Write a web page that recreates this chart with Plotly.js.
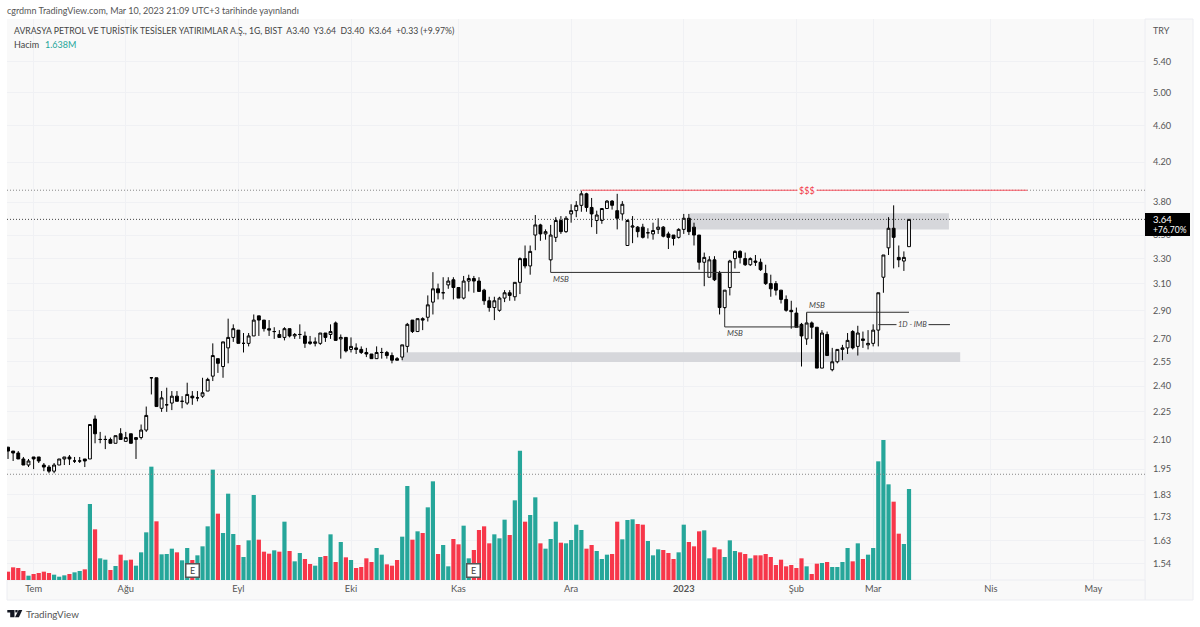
<!DOCTYPE html>
<html><head><meta charset="utf-8">
<script src="https://cdn.plot.ly/plotly-3.0.1.min.js"></script>
<style>html,body{margin:0;padding:0;background:#fff;overflow:hidden}</style>
</head><body><div id="chart" style="width:1200px;height:627px"></div>
<script>
const opens=[2.06,2.04,2.03,2.00,1.97,2.01,2.01,1.97,1.96,1.94,1.97,2.00,2.01,1.99,1.99,2.00,2.00,2.21,2.10,2.10,
2.10,2.08,2.13,2.09,2.13,2.10,2.11,2.15,2.45,2.45,2.27,2.29,2.30,2.34,2.31,2.30,2.34,2.33,2.34,2.37,
2.46,2.57,2.52,2.64,2.71,2.76,2.67,2.67,2.72,2.86,2.83,2.77,2.75,2.73,2.71,2.77,2.72,2.73,2.72,2.68,
2.67,2.67,2.74,2.73,2.81,2.70,2.71,2.63,2.64,2.63,2.61,2.60,2.57,2.61,2.61,2.59,2.57,2.58,2.65,2.83,
2.75,2.84,2.85,2.96,3.06,3.03,3.09,3.13,3.07,2.99,3.12,3.14,3.12,3.05,2.97,2.92,2.90,2.99,3.03,3.00,
3.11,3.30,3.24,3.50,3.59,3.51,3.29,3.48,3.63,3.53,3.69,3.72,3.77,3.88,3.75,3.63,3.63,3.74,3.81,3.72,
3.69,3.41,3.57,3.57,3.57,3.52,3.51,3.55,3.57,3.51,3.50,3.48,3.55,3.65,3.57,3.50,3.27,3.15,3.29,3.18,
2.92,3.07,3.30,3.36,3.30,3.25,3.28,3.27,3.18,3.10,3.10,3.05,2.98,2.90,2.88,2.80,2.70,2.81,2.78,2.51,
2.73,2.50,2.55,2.63,2.64,2.75,2.65,2.70,2.66,2.67,2.76,3.15,3.39,3.56,3.31,3.28,3.40];
const highs=[2.06,2.04,2.04,2.01,2.00,2.01,2.01,1.98,1.97,1.98,2.00,2.01,2.02,2.01,2.01,2.00,2.18,2.23,2.14,2.12,
2.11,2.12,2.16,2.14,2.13,2.11,2.18,2.28,2.45,2.45,2.37,2.39,2.37,2.37,2.34,2.42,2.37,2.37,2.45,2.45,
2.67,2.57,2.68,2.84,2.80,2.76,2.74,2.74,2.87,2.86,2.83,2.83,2.78,2.76,2.78,2.77,2.74,2.80,2.75,2.72,
2.71,2.74,2.74,2.80,2.82,2.73,2.71,2.71,2.67,2.65,2.64,2.60,2.65,2.64,2.62,2.61,2.58,2.66,2.81,2.83,
2.84,2.85,3.01,3.19,3.10,3.15,3.15,3.15,3.07,3.16,3.17,3.16,3.15,3.06,3.00,3.00,3.00,3.05,3.05,3.11,
3.31,3.41,3.41,3.68,3.60,3.55,3.59,3.66,3.67,3.67,3.78,3.81,3.91,3.89,3.84,3.72,3.74,3.82,3.82,3.88,
3.81,3.64,3.67,3.58,3.60,3.56,3.61,3.65,3.58,3.53,3.50,3.56,3.69,3.69,3.61,3.50,3.35,3.32,3.32,3.20,
3.05,3.29,3.37,3.37,3.35,3.31,3.33,3.30,3.25,3.17,3.12,3.05,3.01,2.97,2.92,2.81,2.88,2.82,2.78,2.76,
2.75,2.64,2.63,2.66,2.74,2.76,2.79,2.75,2.76,2.80,3.03,3.33,3.66,3.77,3.41,3.36,3.64];
const lows=[2.00,1.99,2.00,1.97,1.96,1.95,1.98,1.94,1.93,1.93,1.97,1.97,1.97,1.98,1.98,1.96,2.00,2.08,2.08,2.05,
2.08,2.08,2.10,2.09,2.08,2.00,2.10,2.14,2.35,2.28,2.25,2.25,2.26,2.31,2.27,2.29,2.29,2.31,2.33,2.37,
2.43,2.48,2.45,2.54,2.68,2.67,2.61,2.65,2.72,2.72,2.75,2.72,2.70,2.71,2.69,2.71,2.70,2.70,2.64,2.66,
2.65,2.66,2.68,2.70,2.69,2.57,2.61,2.61,2.60,2.60,2.58,2.57,2.57,2.57,2.57,2.54,2.56,2.56,2.61,2.74,
2.75,2.76,2.82,2.87,2.98,2.98,3.06,2.98,2.99,2.98,3.04,3.03,3.04,2.94,2.89,2.83,2.89,2.96,2.97,2.97,
3.02,3.22,3.17,3.37,3.45,3.46,3.28,3.44,3.51,3.52,3.61,3.66,3.71,3.71,3.57,3.51,3.60,3.74,3.73,3.55,
3.63,3.41,3.43,3.48,3.47,3.47,3.46,3.51,3.48,3.38,3.41,3.47,3.51,3.50,3.41,3.21,3.08,3.15,3.12,2.87,
2.91,3.01,3.22,3.26,3.24,3.24,3.24,3.20,3.09,3.00,3.01,2.95,2.89,2.77,2.78,2.52,2.66,2.70,2.51,2.51,
2.59,2.49,2.54,2.56,2.60,2.63,2.59,2.64,2.63,2.65,2.65,3.03,3.33,3.22,3.23,3.20,3.40];
const closes=[2.04,2.03,2.00,1.97,1.99,2.00,1.99,1.96,1.94,1.97,2.00,2.01,2.00,1.99,1.99,1.99,2.18,2.13,2.10,2.10,
2.08,2.12,2.10,2.11,2.08,2.11,2.15,2.23,2.45,2.28,2.33,2.29,2.34,2.31,2.31,2.35,2.33,2.33,2.36,2.44,
2.59,2.54,2.68,2.71,2.77,2.67,2.67,2.72,2.83,2.83,2.77,2.76,2.75,2.71,2.77,2.72,2.73,2.73,2.67,2.67,
2.68,2.74,2.71,2.75,2.69,2.71,2.62,2.65,2.63,2.61,2.60,2.57,2.61,2.61,2.59,2.56,2.56,2.66,2.80,2.75,
2.84,2.83,2.94,3.06,3.03,3.03,3.12,3.07,2.99,3.12,3.14,3.12,3.04,2.97,2.92,2.97,2.99,3.03,3.01,3.11,
3.30,3.24,3.36,3.59,3.51,3.53,3.50,3.63,3.53,3.65,3.72,3.77,3.88,3.75,3.69,3.68,3.74,3.81,3.77,3.65,
3.78,3.63,3.58,3.53,3.48,3.52,3.54,3.57,3.49,3.48,3.47,3.55,3.65,3.53,3.50,3.27,3.31,3.29,3.13,2.92,
3.05,3.28,3.36,3.31,3.25,3.30,3.27,3.21,3.10,3.06,3.05,2.98,2.90,2.89,2.78,2.72,2.81,2.78,2.51,2.74,
2.59,2.55,2.63,2.64,2.69,2.64,2.74,2.69,2.67,2.76,3.03,3.33,3.56,3.48,3.29,3.31,3.64];
// volume in thousands
const volumes=[150,228,216,162,78,108,126,150,126,96,60,84,108,138,162,192,1368,912,390,366,
180,252,456,354,366,258,498,858,2040,1056,462,468,564,498,354,576,360,444,606,966,
1986,1194,846,1554,828,630,414,714,1530,726,510,474,534,510,1050,522,336,486,378,288,
258,414,432,822,324,684,408,360,216,234,390,324,576,456,282,258,360,780,1692,726,
876,846,1308,1776,468,630,246,738,642,978,390,540,900,966,660,822,750,1086,810,1434,
2328,1050,1170,1488,660,564,738,1050,672,660,720,996,900,564,630,522,378,456,468,1050,
732,1080,1092,1008,996,702,444,552,540,486,378,498,996,684,606,876,894,390,588,552,
414,714,522,498,468,390,444,444,468,414,270,366,246,270,216,390,246,108,294,306,
324,234,234,324,576,336,660,378,456,576,2136,2520,1722,1410,834,648,1638];
const volSides="RRRRTRRRRTTTRTTRTRTTRTRTRTTTTRTTTRTTRTTTTRTTTRTTTRRRTRTRTTRRTTRTRTRTRRRRTTRRRTTRTRTTRTTRRTTRRRRTTTRTTRTTRTTTRTTTTRRTTTRRTTTRRTTTRRRTTRRRTTRRTTTRRTRRRRRRRRRRTRRTRTTTTRTRTTTTTRRTT".split("");
const tickIdx=[5,23,45,67,88,110,132,154,169,192,212];
const tickNames=["Tem","Ağu","Eyl","Eki","Kas","Ara","<b>2023</b>","Şub","Mar","Nis","May"];
const priceTicks=[5.40,5.00,4.60,4.20,3.80,3.50,3.30,3.10,2.90,2.70,2.55,2.40,2.25,2.10,1.95,1.83,1.73,1.63,1.54];
const earningsIdx=[36,91];

const W=1200,H=627,L=7,R=1193,T=19,B=580,AX=1145;
const fx=p=>(p-L)/(R-L), fy=p=>(B-p)/(B-T);
const idx=opens.map((_,i)=>i);
const UP='#26a69a',DN='#f7374a',INK='#444444';
const font='Lato,"Noto Sans",sans-serif';

const seg=(x0,y0,x1,y1,c,w,d)=>({type:'line',xref:'x',yref:'y',x0,y0,x1,y1,line:{color:c||'#2e2e2e',width:w||1,dash:d||'solid'}});
const zone=(x0,x1,y0,y1)=>({type:'rect',xref:'x',yref:'y',x0,x1,y0,y1,fillcolor:'#d6d7db',line:{width:0},layer:'between'});
const note=(x,y,text,c,size,bg)=>({xref:'x',yref:'y',x,y:Math.log10(y),text,showarrow:false,font:{family:font,size:size||8,color:c||INK},bgcolor:bg||'rgba(0,0,0,0)',xanchor:'center',yanchor:'middle'});
const ptext=(x,y,text,c,size,anchor)=>({xref:'paper',yref:'paper',x:fx(x),y:fy(y),text,showarrow:false,font:{family:font,size:size||9,color:c||'#555'},xanchor:anchor||'left',yanchor:'middle',align:'left',xshift:-1});
const pPath=pts=>pts.map((q,i)=>(i?'L':'M')+fx(q[0])+','+fy(q[1])).join(' ')+' Z';

const shapes=[
 // frame and axis strips
 {type:'rect',xref:'paper',yref:'paper',x0:fx(AX),x1:fx(R),y0:fy(600),y1:fy(T),fillcolor:'#f9f9f9',line:{color:'#ecedf2',width:1},layer:'below'},
 {type:'rect',xref:'paper',yref:'paper',x0:fx(L),x1:fx(AX),y0:fy(600),y1:fy(B),fillcolor:'#f9f9f9',line:{color:'#ecedf2',width:1},layer:'below'},
 zone(133.2,183.8,3.55,3.695),
 zone(76.9,186,2.548,2.612),
 // dotted levels
 seg(-0.2,3.64,222.1,3.64,'#444444',1,'1px,2px'),
 seg(-0.2,3.915,222.1,3.915,'#888888',1,'1px,2px'),
 seg(-0.2,1.925,222.1,1.925,'#888888',1,'1px,2px'),
 // $$$ line
 seg(112,3.915,199.1,3.915,'#f7525f',1),
 // MSB drawings
 seg(106,3.285,106,3.188), seg(106,3.188,143,3.188),
 seg(140,2.918,140,2.782), seg(140,2.782,155,2.782),
 seg(156,2.80,156,2.886), seg(156,2.886,176,2.886),
 seg(170,2.798,184,2.798),
 // last-price tag
 {type:'rect',xref:'paper',yref:'paper',x0:fx(1145),x1:fx(1190),y0:fy(236),y1:fy(213),fillcolor:'#000',line:{width:0},layer:'above'},
 // logo
 {type:'path',xref:'paper',yref:'paper',path:pPath([[7.3,610],[14.5,610],[14.5,617.3],[10.2,617.3],[10.2,612.6],[7.3,612.6]]),fillcolor:'#131722',line:{width:0}},
 {type:'path',xref:'paper',yref:'paper',path:pPath([[15.3,610],[17.6,610],[17.6,612.4],[15.3,612.4]]),fillcolor:'#131722',line:{width:0}},
 {type:'path',xref:'paper',yref:'paper',path:pPath([[18.6,610],[22.3,610],[18.9,617.3],[15,617.3]]),fillcolor:'#131722',line:{width:0}}
];

const annotations=[
 ptext(13,31,'AVRASYA PETROL VE TURİSTİK TESİSLER YATIRIMLAR A.Ş., 1G, BIST  A3.40  Y3.64  D3.40  K3.64  +0.33 (+9.97%)','#444',8.7),
 ptext(13,44,'Hacim','#444',9),
 ptext(44,44,'1.638M','#26a69a',9),
 ptext(1152,30,'TRY','#555',9),
 ptext(1152,219.5,'3.64','#fff',9.5),
 ptext(1152,230.5,'+76.70%','#fff',8.5),
 ptext(25,614,'TradingView','#555',9.8),
 note(156,3.915,'$$$','#f23645',9,'#f9f9f9'),
 note(108,3.136,'<i>MSB</i>'),
 note(142,2.737,'<i>MSB</i>'),
 note(158,2.942,'<i>MSB</i>'),
 note(176.6,2.798,'<i>1D - IMB</i>',INK,7.5,'#f9f9f9')
].concat(earningsIdx.map(i=>({xref:'x',yref:'paper',x:i,y:fy(570.5),text:'E',showarrow:false,
  font:{family:font,size:9,color:'#444'},bgcolor:'#fff',bordercolor:'#555',borderwidth:1.5,borderpad:1,xanchor:'center',yanchor:'middle',width:10,height:10})));

const data=[
 {type:'candlestick',name:'AVRASYA',x:idx,open:opens,high:highs,low:lows,close:closes,xaxis:'x',yaxis:'y',
  increasing:{line:{color:'#000',width:1},fillcolor:'#fff'},decreasing:{line:{color:'#000',width:1},fillcolor:'#000'},whiskerwidth:0},
 {type:'bar',name:'Hacim',x:idx,y:volumes,yaxis:'y2',xaxis:'x',marker:{color:volSides.map(s=>s==='T'?UP:DN),line:{width:0}},width:0.82,hoverinfo:'skip'}
];

const layout={
 width:W,height:H,margin:{l:L,r:W-R,t:T,b:H-B,pad:0},
 paper_bgcolor:'#fff',plot_bgcolor:'#f9f9f9',showlegend:false,boxgap:0.2,bargap:0.18,
 title:{text:'cgrdmn TradingView.com, Mar 10, 2023 21:09 UTC+3 tarihinde yayınlandı',x:7/W,xref:'container',xanchor:'left',y:1-11/H,yref:'container',yanchor:'middle',font:{family:font,size:9,color:'#555'}},
 xaxis:{domain:[0,fx(AX)],range:[-0.2,222.1],tickmode:'array',tickvals:tickIdx,ticktext:tickNames,tickfont:{family:font,size:9.3,color:'#555'},
   ticks:'',ticklen:0,ticklabelstandoff:2,showgrid:true,gridcolor:'#f0f1f4',gridwidth:1,zeroline:false,showline:false,rangeslider:{visible:false},fixedrange:true,tickangle:0},
 yaxis:{domain:[0,1],side:'right',anchor:'x',type:'log',range:[Math.log10(1.478),Math.log10(6.006)],
   tickmode:'array',tickvals:priceTicks,ticktext:priceTicks.map(v=>v.toFixed(2)),tickfont:{family:font,size:9.2,color:'#555'},
   ticks:'',ticklabelstandoff:7,showgrid:true,gridcolor:'#f0f1f4',gridwidth:1,zeroline:false,showline:false,fixedrange:true},
 yaxis2:{domain:[0,1],overlaying:'y',range:[0,10098],visible:false,fixedrange:true,showgrid:false,zeroline:false},
 shapes,annotations
};
Plotly.newPlot('chart',data,layout,{displayModeBar:false,staticPlot:true,responsive:false});
</script></body></html>
